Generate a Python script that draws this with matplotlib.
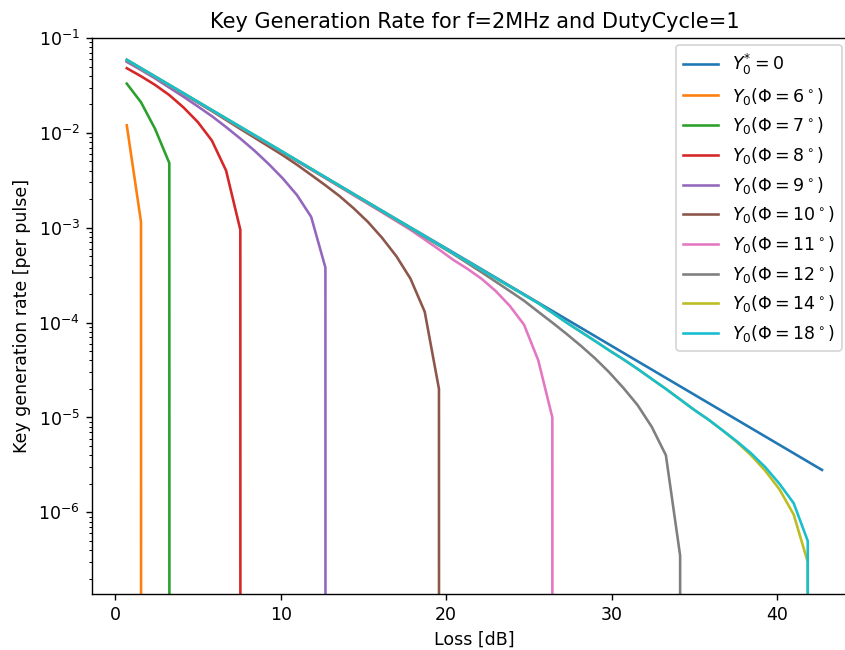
import matplotlib
matplotlib.use("Agg")
import matplotlib.pyplot as plt

# Key rate vs channel loss; a rate of 0 means no key can be extracted.
loss_ideal = [0.70, 10.13, 20.41, 30.70, 42.70]
rate_ideal = [5.8e-2, 6.2e-3, 5.5e-4, 4.8e-5, 2.8e-6]

loss_6 = [0.70, 1.56, 2.41]
rate_6 = [1.2e-2, 1.15e-3, 0.0]

loss_7 = [0.70, 1.56, 2.41, 3.27, 4.13]
rate_7 = [3.3e-2, 2.1e-2, 1.1e-2, 4.8e-3, 0.0]

loss_8 = [0.70, 1.56, 2.41, 3.27, 4.13, 4.99, 5.84, 6.70, 7.56, 8.41]
rate_8 = [4.8e-2, 3.95e-2, 3.2e-2, 2.5e-2, 1.85e-2, 1.3e-2, 8.3e-3, 4.0e-3, 9.5e-4, 0.0]

loss_9 = [0.70, 1.56, 2.41, 3.27, 4.13, 4.99, 5.84, 6.70, 7.56, 8.41, 9.27,
          10.13, 10.99, 11.84, 12.70, 13.56]
rate_9 = [5.6e-2, 4.6e-2, 3.75e-2, 3.0e-2, 2.4e-2, 1.9e-2, 1.5e-2, 1.15e-2,
          8.7e-3, 6.5e-3, 4.7e-3, 3.3e-3, 2.2e-3, 1.3e-3, 3.8e-4, 0.0]

loss_10 = [0.70, 2.41, 4.13, 5.84, 7.56, 9.27, 10.13, 10.99, 11.84, 12.70,
           13.56, 14.41, 15.27, 16.13, 16.99, 17.84, 18.70, 19.56, 20.41]
rate_10 = [5.8e-2, 3.9e-2, 2.6e-2, 1.7e-2, 1.1e-2, 7.2e-3, 5.8e-3, 4.6e-3,
           3.6e-3, 2.8e-3, 2.15e-3, 1.6e-3, 1.15e-3, 7.8e-4, 5.0e-4, 2.9e-4,
           1.3e-4, 2.0e-5, 0.0]

loss_11 = [0.70, 10.13, 14.41, 16.13, 17.84, 18.70, 19.56, 20.41, 21.27,
           22.13, 22.99, 23.84, 24.70, 25.56, 26.41, 27.27]
rate_11 = [5.8e-2, 6.2e-3, 2.2e-3, 1.45e-3, 9.5e-4, 7.5e-4, 5.9e-4, 4.6e-4,
           3.7e-4, 2.9e-4, 2.15e-4, 1.5e-4, 9.5e-5, 4.0e-5, 1.0e-5, 0.0]

loss_12 = [0.70, 10.13, 20.41, 22.13, 23.84, 24.70, 25.56, 26.41, 27.27,
           28.13, 28.99, 29.84, 30.70, 31.56, 32.41, 33.27, 34.13, 34.99]
rate_12 = [5.8e-2, 6.2e-3, 5.3e-4, 3.4e-4, 2.15e-4, 1.7e-4, 1.3e-4, 1.0e-4,
           7.6e-5, 5.7e-5, 4.2e-5, 3.0e-5, 2.05e-5, 1.35e-5, 8.0e-6, 4.0e-6,
           3.5e-7, 0.0]

loss_14 = [0.70, 10.13, 20.41, 25.56, 26.41, 27.27, 28.13, 28.99, 29.84,
           30.70, 31.56, 32.41, 33.27, 34.13, 34.99, 35.84, 36.70, 37.56,
           38.41, 39.27, 40.13, 40.99, 41.84, 42.70]
rate_14 = [5.9e-2, 6.3e-3, 5.4e-4, 1.6e-4, 1.27e-4, 1.0e-4, 8.0e-5, 6.4e-5,
           5.1e-5, 4.1e-5, 3.25e-5, 2.55e-5, 2.0e-5, 1.55e-5, 1.2e-5, 9.5e-6,
           7.3e-6, 5.5e-6, 4.0e-6, 2.75e-6, 1.75e-6, 9.5e-7, 3.0e-7, 0.0]

loss_18 = [0.70, 10.13, 20.41, 25.56, 26.41, 27.27, 28.13, 28.99, 29.84,
           30.70, 31.56, 32.41, 33.27, 34.13, 34.99, 35.84, 36.70, 37.56,
           38.41, 39.27, 40.13, 40.99, 41.84, 42.70]
rate_18 = [5.9e-2, 6.3e-3, 5.4e-4, 1.6e-4, 1.27e-4, 1.0e-4, 8.0e-5, 6.4e-5,
           5.1e-5, 4.1e-5, 3.25e-5, 2.55e-5, 2.0e-5, 1.55e-5, 1.2e-5, 9.5e-6,
           7.3e-6, 5.6e-6, 4.2e-6, 3.0e-6, 2.0e-6, 1.25e-6, 5.0e-7, 0.0]

angles = [6, 7, 8, 9, 10, 11, 12, 14, 18]
curves = [
    (loss_6, rate_6), (loss_7, rate_7), (loss_8, rate_8), (loss_9, rate_9),
    (loss_10, rate_10), (loss_11, rate_11), (loss_12, rate_12),
    (loss_14, rate_14), (loss_18, rate_18),
]

fig = plt.figure(figsize=(6.76, 5.2), dpi=125)
ax = fig.add_axes([0.1089, 0.0862, 0.905, 0.8554])

ax.plot(loss_ideal, rate_ideal, label=r"$Y_0^{*}=0$")
for phi, (loss, rate) in zip(angles, curves):
    ax.plot(loss, rate, label=r"$Y_0(\Phi=%d^\circ)$" % phi)

ax.set_yscale("log")
ax.set_xlim(-1.4, 44.8)
ax.set_ylim(1.38e-7, 1e-1)
ax.set_title("Key Generation Rate for f=2MHz and DutyCycle=1")
ax.set_xlabel("Loss [dB]")
ax.set_ylabel("Key generation rate [per pulse]")
ax.legend(loc="upper right", bbox_to_anchor=(0.996, 0.931),
          bbox_transform=fig.transFigure, borderaxespad=0)

fig.savefig("out.png", dpi=125)
plt.close(fig)
